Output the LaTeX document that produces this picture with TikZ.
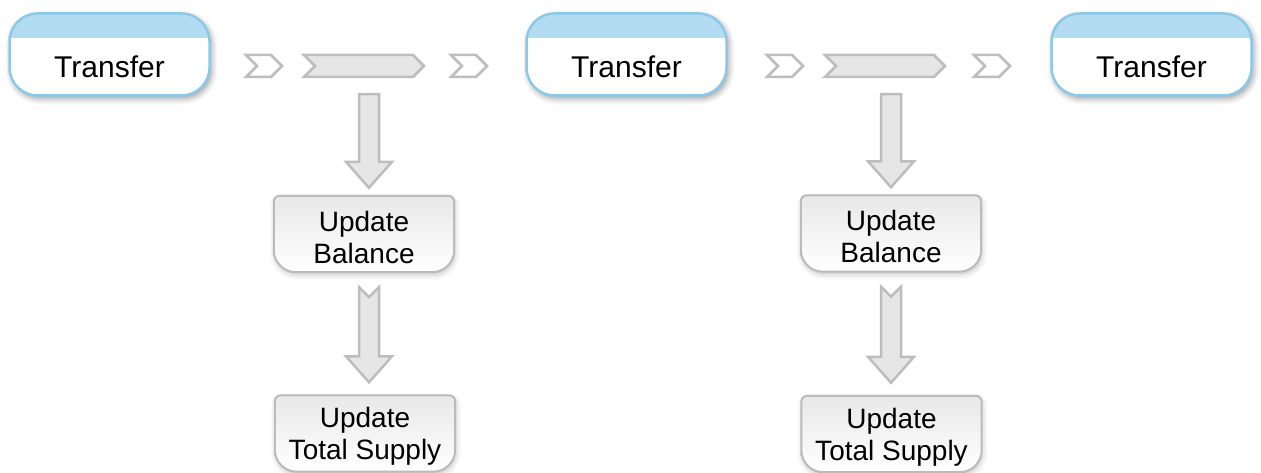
\documentclass[tikz,border=0pt]{standalone}
\usepackage{fontspec}
\setmainfont{Liberation Sans}
\usetikzlibrary{calc,shadows.blur,shapes.symbols}
\definecolor{tblue}{HTML}{8CC8E8}
\definecolor{thead}{HTML}{B3DBF2}
\definecolor{cgray}{HTML}{BDBDBD}
\definecolor{cfill}{HTML}{E6E6E6}
\definecolor{ugray}{HTML}{BBBBBB}
\tikzset{
 transferbox/.style={draw=tblue, line width=2.5pt, rounded corners=28pt,
   minimum width=200pt, minimum height=82pt, inner sep=0pt, fill=white,
   blur shadow={shadow xshift=2pt, shadow yshift=-3pt, shadow blur radius=6pt, shadow opacity=40},
   path picture={\fill[thead, sharp corners] (path picture bounding box.north west) rectangle ([yshift=-25pt]path picture bounding box.north east);}},
 ttext/.style={anchor=base, font=\fontsize{30}{32}\selectfont, inner sep=0pt},
 chevsmall/.style={signal, signal to=east, signal from=west, draw=cgray, line width=2.5pt,
   fill=white, minimum width=36pt, minimum height=22pt, inner sep=0pt},
 chevlong/.style={chevsmall, fill=cfill, minimum width=120pt},
 ubox/.style={minimum width=180pt, minimum height=76pt, inner sep=0pt},
 uoutline/.style={draw=ugray, line width=2pt, top color=black!9, bottom color=white,
   blur shadow={shadow xshift=1pt, shadow yshift=-3pt, shadow blur radius=5pt, shadow opacity=22}},
 utext/.style={align=center, font=\fontsize{28}{32}\selectfont, inner sep=0pt},
 barrow/.style={draw=cgray, line width=2.5pt, fill=cfill, line join=miter},
}
\newcommand\uoutline[1]{\path[uoutline] (#1.north) [rounded corners=6pt] -| (#1.east) [rounded corners=22pt] |- (#1.south) -| (#1.west) [rounded corners=6pt] |- (#1.north);}
% block arrow: start coord, end coord, notch depth
\newcommand\varrow[3]{\draw[barrow] ($(#1)+(-10,0)$) -- ($(#1)+(0,#3)$) -- ($(#1)+(10,0)$) -- ($(#2)+(10,-26)$) -- ($(#2)+(23,-26)$) -- (#2) -- ($(#2)+(-23,-26)$) -- ($(#2)+(-10,-26)$) -- cycle;}
\begin{document}
\begin{tikzpicture}[x=1pt,y=-1pt]
\useasboundingbox (0,0) rectangle (1261,473);
% Transfer boxes
\node[transferbox] (t1) at (109.5,54.5) {};
\node[transferbox] (t2) at (626.5,54.5) {};
\node[transferbox] (t3) at (1151.5,54.5) {};
\node[ttext] (tt1) at ($(t1.center)+(0,23.5)$) {Transfer};
\node[ttext] (tt2) at ($(t2.center)+(0,23.5)$) {Transfer};
\node[ttext] (tt3) at ($(t3.center)+(0,23.5)$) {Transfer};
% chevrons
\node[chevsmall] (c1a) at (264,66) {};
\node[chevlong]  (c1b) at (364,66) {};
\node[chevsmall] (c1c) at (469,66) {};
\node[chevsmall] (c2a) at (785,66) {};
\node[chevlong]  (c2b) at (885,66) {};
\node[chevsmall] (c2c) at (992,66) {};
% update boxes
\node[ubox] (ub1) at (364,234) {};
\node[ubox] (ut1) at (365,433.5) {};
\node[ubox] (ub2) at (891,233.5) {};
\node[ubox] (ut2) at (891.5,434) {};
\uoutline{ub1}
\uoutline{ut1}
\uoutline{ub2}
\uoutline{ut2}
\node[utext] (ubt1) at ($(ub1.center)+(0,3)$) {Update\\Balance};
\node[utext] (utt1) at ($(ut1.center)+(0,3)$) {Update\\Total Supply};
\node[utext] (ubt2) at ($(ub2.center)+(0,3)$) {Update\\Balance};
\node[utext] (utt2) at ($(ut2.center)+(0,3)$) {Update\\Total Supply};
% vertical arrows
\coordinate (a1s) at ($(c1b.south)+(5,16)$);
\coordinate (a1e) at ($(ub1.north)+(5,-8)$);
\coordinate (a2s) at ($(ub1.south)+(5,15)$);
\coordinate (a2e) at ($(ut1.north)+(4,-13)$);
\coordinate (a3s) at ($(c2b.south)+(6,16)$);
\coordinate (a3e) at ($(ub2.north)+(0,-8)$);
\coordinate (a4s) at ($(ub2.south)+(0,15)$);
\coordinate (a4e) at ($(ut2.north)+(-0.5,-13)$);
\varrow{a1s}{a1e}{0}
\varrow{a2s}{a2e}{10}
\varrow{a3s}{a3e}{0}
\varrow{a4s}{a4e}{10}
\end{tikzpicture}
\end{document}
